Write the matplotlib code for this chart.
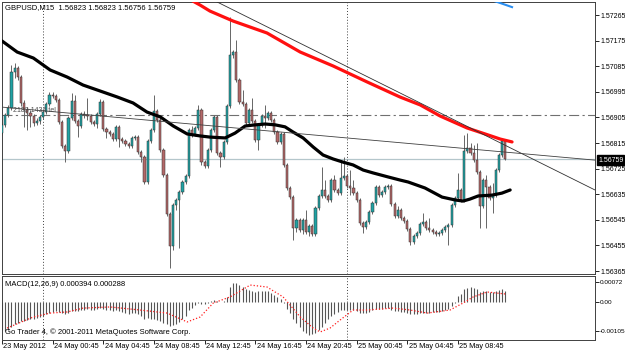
import numpy as np
import matplotlib
matplotlib.use("Agg")
import matplotlib.pyplot as plt

plt.rcParams['font.family'] = ['Liberation Sans', 'DejaVu Sans']

# ---------------- data (prices in points = 1e-5) ----------------
open_pts = [156850,156879,156914,156938,157065,157079,157047,156956,156931,156921,
            156910,156886,156893,156907,156924,156952,156984,156981,156966,156889,
            156805,156787,156903,156963,156893,156875,156917,156914,156910,156889,
            156882,156917,156959,156864,156854,156847,156829,156872,156829,156822,
            156812,156805,156833,156836,156784,156766,156678,156822,156861,156928,
            156896,156791,156703,156566,156453,156597,156615,156643,156678,156699,
            156861,156847,156868,156931,156748,156734,156791,156861,156907,156780,
            156766,156819,156945,157125,157135,157037,156959,156952,156886,156931,
            156893,156826,156879,156910,156903,156921,156896,156854,156819,156847,
            156738,156657,156625,156516,156545,156510,156545,156502,156523,156495,
            156587,156629,156650,156629,156615,156685,156650,156639,156692,156699,
            156664,156657,156639,156615,156534,156520,156537,156573,156604,156661,
            156632,156643,156661,156664,156601,156559,156580,156552,156541,156513,
            156467,156488,156499,156530,156537,156516,156510,156502,156495,156499,
            156510,156520,156527,156597,156622,156650,156615,156787,156798,156780,
            156756,156713,156594,156685,156661,156622,156632,156720,156773,156823]
close_pts = [156879,156914,156938,157065,157079,157047,156956,156931,156921,156910,
             156886,156893,156907,156924,156952,156984,156981,156966,156889,156805,
             156787,156903,156963,156893,156875,156917,156914,156910,156889,156882,
             156917,156959,156864,156854,156847,156829,156872,156829,156822,156812,
             156805,156833,156836,156784,156766,156678,156822,156861,156928,156896,
             156791,156703,156566,156453,156597,156615,156643,156678,156699,156861,
             156847,156868,156931,156748,156734,156791,156861,156907,156780,156766,
             156819,156945,157125,157135,157037,156959,156952,156886,156931,156893,
             156826,156879,156910,156903,156921,156896,156854,156819,156847,156738,
             156657,156625,156516,156545,156510,156545,156502,156523,156495,156587,
             156629,156650,156629,156615,156685,156650,156639,156692,156699,156664,
             156657,156639,156615,156534,156520,156537,156573,156604,156661,156632,
             156643,156661,156664,156601,156559,156580,156552,156541,156513,156467,
             156488,156499,156530,156537,156516,156510,156502,156495,156499,156510,
             156520,156527,156597,156622,156650,156615,156787,156798,156780,156756,
             156713,156594,156685,156661,156622,156632,156720,156773,156822,156759]
high_pts = [156889,156921,156949,157089,157096,157086,157054,156966,156942,156931,
            156917,156903,156914,156931,156959,156995,156995,156988,156973,156896,
            156812,156910,156991,156984,156900,156924,156928,156973,156917,156896,
            156924,156970,156966,156872,156861,156854,156879,156879,156836,156829,
            156819,156840,156843,156843,156791,156773,156829,156868,156984,156935,
            156903,156798,156710,156573,156604,156622,156650,156685,156706,156868,
            156875,156875,156949,156938,156756,156798,156868,156914,156914,156787,
            156826,156952,157258,157142,157177,157044,157002,156959,156938,156973,
            156900,156886,156917,156949,156928,156928,156903,156861,156854,156854,
            156745,156664,156632,156552,156552,156552,156580,156530,156530,156594,
            156636,156731,156685,156636,156692,156703,156657,156756,156766,156706,
            156720,156685,156646,156622,156541,156545,156580,156611,156668,156668,
            156650,156668,156671,156671,156608,156594,156587,156559,156548,156520,
            156495,156506,156537,156569,156545,156552,156516,156510,156506,156516,
            156527,156534,156604,156629,156710,156657,156843,156850,156815,156808,
            156815,156720,156692,156703,156668,156675,156727,156780,156826,156823]
low_pts = [156843,156872,156907,156931,157044,157037,156945,156872,156861,156872,
           156875,156879,156882,156900,156917,156945,156973,156959,156882,156798,
           156748,156780,156896,156886,156836,156868,156903,156896,156882,156875,
           156868,156910,156857,156833,156840,156822,156822,156801,156815,156805,
           156798,156798,156826,156777,156748,156671,156671,156815,156854,156889,
           156784,156696,156559,156376,156439,156580,156446,156636,156671,156692,
           156836,156840,156861,156738,156727,156727,156784,156854,156773,156731,
           156759,156812,156938,157114,157030,156952,156945,156879,156879,156886,
           156819,156791,156872,156868,156896,156889,156847,156812,156812,156731,
           156650,156618,156474,156502,156502,156495,156495,156488,156488,156488,
           156580,156622,156622,156608,156608,156643,156632,156632,156685,156657,
           156632,156632,156608,156527,156499,156513,156530,156566,156597,156625,
           156625,156636,156653,156594,156552,156552,156545,156534,156506,156457,
           156460,156481,156492,156523,156510,156502,156495,156488,156488,156492,
           156502,156457,156520,156590,156615,156608,156608,156780,156773,156748,
           156706,156516,156587,156516,156615,156569,156625,156713,156766,156756]

# moving averages: (bar index, price points)
ma_black_idx = [0, 4.8, 9.9, 15.2, 20.6, 25.6, 31.0, 36.4, 41.4, 45.8, 50.0, 54.1, 58.5, 62.6,
                65.7, 70.5, 73.6, 76.8, 80.0, 83.1, 86.3, 89.4, 91.9, 95.1, 98.3, 101.4, 104.6,
                107.7, 110.9, 114.1, 117.2, 121.9, 125.7, 128.3, 133.6, 139.0, 143.1, 145.6,
                147.8, 150.4, 154.8, 157.9, 160.5]
ma_black_pts = [157174, 157135, 157114, 157072, 157047, 157019, 156998, 156977, 156956, 156924,
                156907, 156875, 156847, 156840, 156836, 156833, 156850, 156875, 156879, 156882,
                156879, 156872, 156854, 156833, 156801, 156773, 156759, 156748, 156738, 156720,
                156710, 156696, 156685, 156678, 156657, 156625, 156615, 156611, 156618, 156629,
                156632, 156639, 156650]
ma_red_idx = [57.9, 62.6, 65.7, 73.0, 83.7, 94.2, 104.6, 115.3, 125.7, 132.1, 138.4, 146.9,
              152.6, 157.4, 161.1]
ma_red_pts = [157329, 157300, 157279, 157244, 157202, 157135, 157086, 157030, 156977, 156949,
              156910, 156868, 156847, 156829, 156819]
ma_blue_idx = [154.0, 158.0, 161.1]
ma_blue_pts = [157320, 157305, 157293]

# drawn objects
trend_a_idx = [66.7, 187.3]
trend_a_pts = [157318, 156650]
trend_b_idx = [-0.6, 187.3]
trend_b_pts = [156942, 156755]
hline_pts = 156913
bid_pts = 156759

# MACD (units of 1e-5)
macd_vals = [-100,-105,-100,-90,-80,-75,-70,-68,-65,-62,-60,-58,-55,-50,-45,-40,-35,-32,-35,-40,
             -42,-38,-33,-32,-33,-30,-28,-27,-28,-28,-25,-20,-25,-28,-30,-32,-30,-33,-36,-40,
             -42,-40,-40,-45,-50,-62,-58,-62,-60,-65,-70,-75,-80,-85,-82,-78,-72,-62,-50,-30,
             -20,-12,-5,-8,-8,-4,2,6,3,1,4,18,55,70,68,60,55,45,42,40,
             35,38,40,40,38,32,25,18,12,-5,-25,-40,-60,-75,-90,-105,-112,-118,-115,-110,
             -100,-90,-75,-62,-52,-45,-36,-30,-28,-28,-28,-30,-32,-38,-40,-38,-35,-30,-25,-25,
             -25,-22,-22,-28,-32,-33,-35,-37,-40,-45,-45,-43,-40,-38,-38,-38,-37,-37,-35,-32,
             -28,-25,-15,-5,20,28,45,50,55,52,45,35,38,38,36,36,38,42,45,39.4]
signal_idx = [1.6, 9.9, 15.2, 20.6, 25.6, 34.2, 43.6, 52.2, 58.5, 62.6, 66.7, 72.0, 78.4, 83.7,
              88.8, 94.2, 98.3, 100.5, 103.6, 106.8, 110.9, 115.3, 123.5, 128.9, 134.3, 141.5,
              145.6, 148.8, 153.2, 156.4, 159.0]
signal_vals = [-94, -54, -40, -36, -22, -18, -29, -40, -72, -54, -4, 18, 61, 54, 18, -54, -94,
               -108, -94, -65, -29, -29, -22, -29, -40, -29, -4, 18, 36, 32, 28.8]

price_ticks = [1.57265, 1.57175, 1.57085, 1.56995, 1.56905, 1.56815, 1.56725, 1.56635,
               1.56545, 1.56455, 1.56365]
macd_ticks = [0.00072, 0.0, -0.00105]
macd_tick_labels = ["0.00072", "0.00", "-0.00105"]
time_idx = [0, 16, 32, 48, 64, 80, 96, 112, 128, 144]
time_labels = ["23 May 2012", "24 May 00:45", "24 May 04:45", "24 May 08:45", "24 May 12:45",
               "24 May 16:45", "24 May 20:45", "25 May 00:45", "25 May 04:45", "25 May 08:45"]
separator_idx = [13, 109]

header = "GBPUSD,M15  1.56823 1.56823 1.56756 1.56759"
macd_label = "MACD(12,26,9) 0.000394 0.000288"
copyright_txt = "Go Trader 4, \u00a9 2001-2011 MetaQuotes Software Corp."
line_label = "2183 1434 tel"

# ---------------- figure ----------------
W, H = 625, 353
fig = plt.figure(figsize=(W / 100, H / 100), dpi=100)
fig.patch.set_facecolor("white")

def rect(x0, y0, x1, y1):
    return [x0 / W, 1 - y1 / H, (x1 - x0) / W, (y1 - y0) / H]

ax = fig.add_axes(rect(2, 2, 595, 274))
axm = fig.add_axes(rect(2, 276, 595, 340), sharex=ax)

o = np.array(open_pts) / 1e5
c = np.array(close_pts) / 1e5
h = np.array(high_pts) / 1e5
l = np.array(low_pts) / 1e5
idx = np.arange(len(o))

bull = c >= o
bull_col, bear_col = "#20a2a4", "#b36868"
ax.vlines(idx, l, h, color="#666666", lw=0.7, zorder=2)
bodies = np.maximum(np.abs(c - o), 0.000015)
ax.bar(idx, bodies, bottom=np.minimum(o, c), width=0.68,
       color=np.where(bull, bull_col, bear_col), edgecolor="#303030", linewidth=0.35, zorder=3)

ax.plot(ma_black_idx, np.array(ma_black_pts) / 1e5, color="black", lw=2.3, zorder=5,
        solid_capstyle="round")
ax.plot(ma_red_idx, np.array(ma_red_pts) / 1e5, color="#ff1010", lw=2.3, zorder=5,
        solid_capstyle="round")
ax.plot(ma_blue_idx, np.array(ma_blue_pts) / 1e5, color="#2a8ef0", lw=1.5, zorder=5)
ax.plot(trend_a_idx, np.array(trend_a_pts) / 1e5, color="#303030", lw=0.6, zorder=6)
ax.plot(trend_b_idx, np.array(trend_b_pts) / 1e5, color="#404040", lw=0.6, zorder=6)
ax.axhline(hline_pts / 1e5, color="#707070", lw=0.8, ls=(0, (9, 3, 2, 3)), zorder=1)
ax.axhline(bid_pts / 1e5, color="#b4c6cb", lw=0.9, zorder=1)
for s in separator_idx:
    ax.axvline(s, color="#404040", lw=0.7, ls=(0, (1, 2)), zorder=1)
    axm.axvline(s, color="#404040", lw=0.7, ls=(0, (1, 2)), zorder=1)

ax.set_xlim(0.063, 187.3)
ax.set_ylim(1.563546, 1.57311)
ax.yaxis.tick_right()
ax.set_yticks(price_ticks)
ax.set_yticklabels([f"{p:.5f}" for p in price_ticks], fontsize=5)
ax.tick_params(axis="y", length=3, width=0.6, pad=1, colors="black")
ax.tick_params(axis="x", length=0, labelbottom=False)

ax.text(3 / 593, 1 - 6 / 272, header, transform=ax.transAxes, fontsize=5.5, va="center",
        ha="left", color="black")
ax.text(0.019, (1.56930 - 1.563546) / (1.57311 - 1.563546), line_label, transform=ax.transAxes,
        fontsize=5, color="#505050", va="center", ha="left", zorder=4)

# MACD
mv = np.array(macd_vals) / 1e5
axm.vlines(idx, 0, mv, color="#555555", lw=0.8, zorder=2)
axm.plot(signal_idx, np.array(signal_vals) / 1e5, color="#ff2020", lw=0.9, ls=(0, (1, 1.6)),
         zorder=3)
axm.set_ylim(-0.00137, 0.000936)
axm.yaxis.tick_right()
axm.set_yticks(macd_ticks)
axm.set_yticklabels(macd_tick_labels, fontsize=4.6)
axm.tick_params(axis="y", length=3, width=0.6, pad=0.5)
axm.set_xticks(time_idx)
axm.set_xticklabels([])
axm.tick_params(axis="x", length=3, width=0.6, direction="out")
axm.text(3 / 593, 1 - 8 / 64, macd_label, transform=axm.transAxes, fontsize=5.5, va="center",
         ha="left")
axm.text(3 / 593, 1 - 56 / 64, copyright_txt, transform=axm.transAxes, fontsize=5.5,
         va="center", ha="left")

for a in (ax, axm):
    for sp in a.spines.values():
        sp.set_color("#404040")
        sp.set_linewidth(0.7)

# time labels below MACD panel
for ti, lab in zip(time_idx, time_labels):
    xpix = 2 + (ti - 0.063) / (187.3 - 0.063) * 593
    fig.text((xpix + 1.5) / W, 1 - 347 / H, lab, fontsize=5.3, ha="left", va="center")

# bid price box
fig.text(598 / W, 1 - 160 / H, "1.56759", fontsize=5, color="white", ha="left", va="center",
         bbox=dict(boxstyle="square,pad=0.15", fc="black", ec="black"))

fig.savefig("out.png", dpi=100)
